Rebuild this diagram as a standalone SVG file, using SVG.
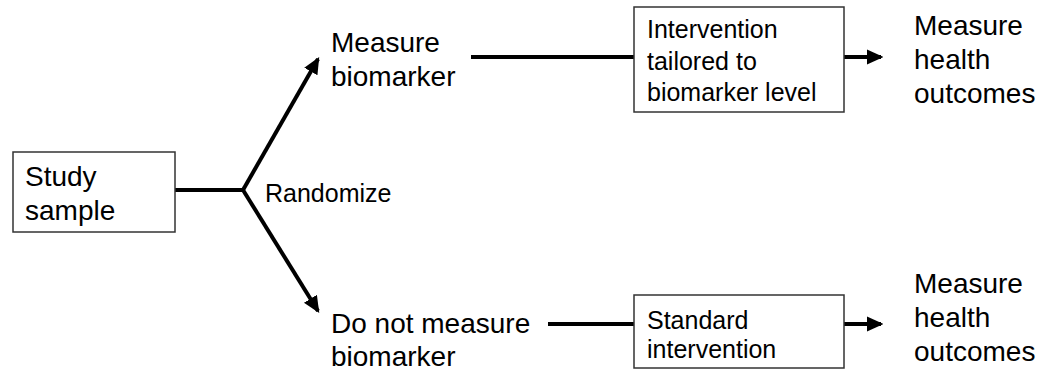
<svg xmlns="http://www.w3.org/2000/svg" width="1047" height="378" viewBox="0 0 1047 378">
<style>
text{font-family:"Liberation Sans",Arial,sans-serif;fill:#000}
.t{font-size:28px}
.s{font-size:25px}
.box{fill:#fff;stroke:#333;stroke-width:1.5}
.ln{stroke:#000;stroke-width:4;fill:none}
</style>
<defs>
<marker id="ah" markerWidth="4.2" markerHeight="4" refX="3.6" refY="1.9" orient="auto" markerUnits="strokeWidth">
<path d="M0,0 L4.2,1.9 L0,3.8 Z" fill="#000"/>
</marker>
</defs>
<rect width="1047" height="378" fill="#fff"/>
<g id="connectors">
<path class="ln" d="M175,190 L243,190"/>
<path class="ln" d="M243,190 L318,59" marker-end="url(#ah)"/>
<path class="ln" d="M243,190 L318,311" marker-end="url(#ah)"/>
<text class="s" x="265" y="202">Randomize</text>
<path class="ln" d="M471,57 L634,57"/>
<path class="ln" d="M844,57 L881,57" marker-end="url(#ah)"/>
<path class="ln" d="M548,324 L634,324"/>
<path class="ln" d="M844,324 L881,324" marker-end="url(#ah)"/>
</g>
<g id="study">
<rect class="box" x="13" y="152" width="162" height="80"/>
<text class="t" x="25" y="186">Study</text>
<text class="t" x="25" y="220">sample</text>
</g>
<g id="measure">
<text class="t" x="331" y="52">Measure</text>
<text class="t" x="331" y="86">biomarker</text>
</g>
<g id="notmeasure">
<text class="t" x="331" y="333">Do not measure</text>
<text class="t" x="331" y="366">biomarker</text>
</g>
<g id="tailored">
<rect class="box" x="634" y="7" width="210" height="105"/>
<text class="s" x="647" y="38">Intervention</text>
<text class="s" x="647" y="70">tailored to</text>
<text class="s" x="647" y="101">biomarker level</text>
</g>
<g id="standard">
<rect class="box" x="634" y="295" width="210" height="73"/>
<text class="s" x="647" y="329">Standard</text>
<text class="s" x="647" y="358">intervention</text>
</g>
<g id="outcome1">
<text class="t" x="914" y="35">Measure</text>
<text class="t" x="914" y="69">health</text>
<text class="t" x="914" y="103">outcomes</text>
</g>
<g id="outcome2">
<text class="t" x="914" y="293">Measure</text>
<text class="t" x="914" y="327">health</text>
<text class="t" x="914" y="361">outcomes</text>
</g>
</svg>
